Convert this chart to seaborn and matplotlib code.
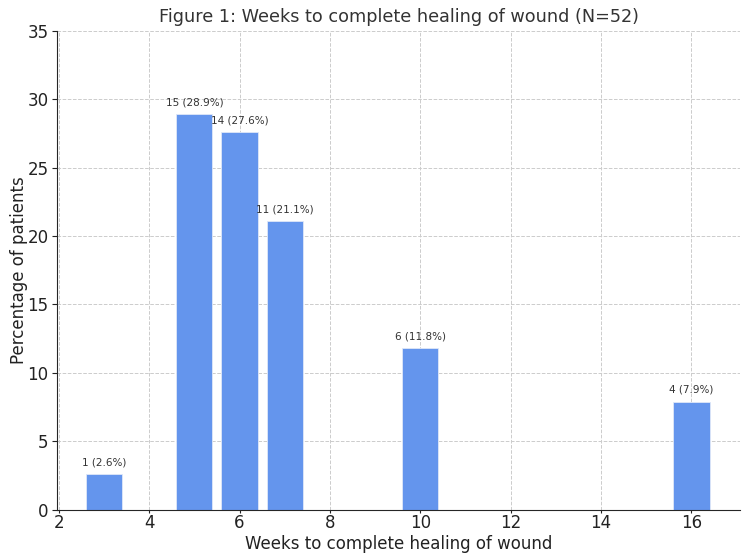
import matplotlib
matplotlib.use("Agg")
import matplotlib.pyplot as plt
import seaborn as sns
import pandas as pd

# Data
weeks = [3, 5, 6, 7, 10, 16]
patients = [1, 15, 14, 11, 6, 4]
percent = [2.6, 28.9, 27.6, 21.1, 11.8, 7.9]

df = pd.DataFrame({"weeks": weeks, "percent": percent, "n": patients})

sns.set_style("ticks")
plt.rcParams["font.family"] = ["DejaVu Sans"]

fig, ax = plt.subplots(figsize=(7.5, 5.6), dpi=100)
sns.barplot(data=df, x="weeks", y="percent", native_scale=True,
            color="#6495ED", saturation=1, edgecolor="#dfe8f8", linewidth=0.6,
            width=0.8, ax=ax)

# value labels above each bar
for w, p, n in zip(weeks, percent, patients):
    ax.text(w, p + 0.5, f"{n} ({p}%)", ha="center", va="bottom",
            fontsize=7.5, color="#333333")

ax.set_ylim(0, 35)
ax.set_xlim(1.96, 17.08)
ax.set_xticks([2, 4, 6, 8, 10, 12, 14, 16])
ax.grid(True, linestyle="--", color="#cccccc", linewidth=0.7)
ax.set_axisbelow(True)
ax.set_title("Figure 1: Weeks to complete healing of wound (N=52)",
             fontsize=12.7, color="#333333")
ax.set_xlabel("Weeks to complete healing of wound", fontsize=12,
              color="#222222", labelpad=1.5)
ax.set_ylabel("Percentage of patients", fontsize=12, color="#222222",
              labelpad=0)
ax.tick_params(labelsize=12, colors="#222222", length=3.5, pad=2.5)
ax.tick_params(axis="x", length=2.5, pad=1)
sns.despine(ax=ax)

fig.subplots_adjust(left=0.076, right=0.987, top=0.945, bottom=0.09)
fig.savefig("out.png", dpi=100)
